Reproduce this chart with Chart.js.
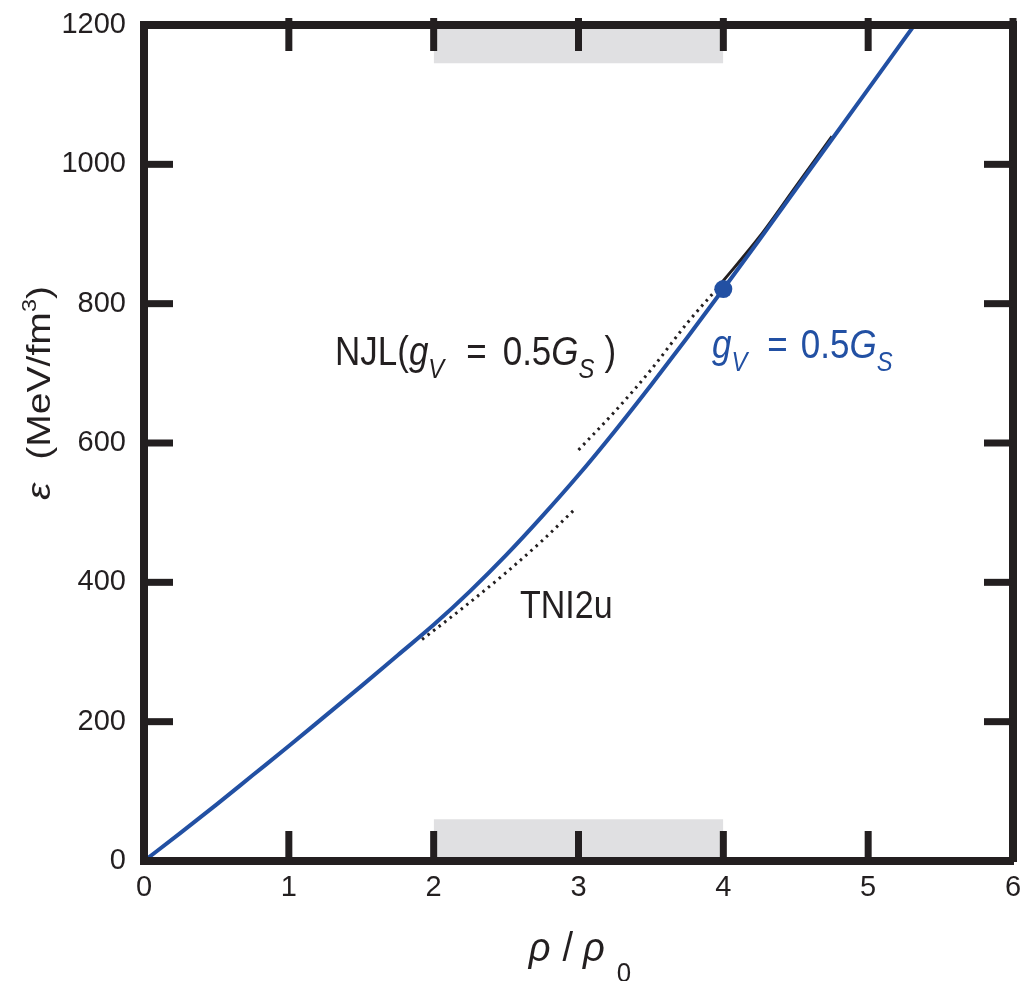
<!DOCTYPE html>
<html>
<head>
<meta charset="utf-8">
<script src="https://cdn.jsdelivr.net/npm/chart.js@4.4.1/dist/chart.umd.min.js"></script>
<style>
  html, body { margin: 0; padding: 0; background: #ffffff; }
  #wrap { width: 1026px; height: 981px; position: relative; }
</style>
</head>
<body>
<div id="wrap"><canvas id="c" width="1026" height="981"></canvas></div>
<script>
// ---------- data ----------
const xTicks = [0, 1, 2, 3, 4, 5, 6];
const yTicks = [0, 200, 400, 600, 800, 1000, 1200];

// blue curve (g_V = 0.5 G_S)
const rhoMain = [0, 0.25, 0.5, 0.75, 1, 1.25, 1.5, 1.75, 2, 2.25, 2.5, 2.75, 3, 3.25, 3.5, 3.75, 4, 4.25, 4.5, 4.75, 5, 5.25, 5.5];
const epsMain = [0, 40, 81, 123, 165, 208, 251, 295, 339, 387, 439, 495, 554, 617, 683, 751, 821, 892, 964, 1036, 1108, 1180, 1252];

// NJL(g_V = 0.5 G_S): dotted part and solid part
const rhoNJLdot = [3.0, 3.25, 3.5, 3.75, 3.98];
const epsNJLdot = [590, 645, 705, 772, 827];
const rhoNJLsolid = [3.98, 4.25, 4.5, 4.75];
const epsNJLsolid = [828, 896, 968, 1040];

// TNI2u dotted
const rhoTNI = [1.92, 2.2, 2.5, 2.75, 2.97];
const epsTNI = [318, 363, 414, 460, 504];

// transition marker
const rhoDot = [4.0];
const epsDot = [821];

// shaded bands (rho range 2..4)
const bandRho = [2, 4];
const bandLow = [60, 60];
const bandHigh = [1145, 1145];

// ---------- styling ----------
const FAM = "'Liberation Sans', Arial, Helvetica, sans-serif";
const INK = '#231f20';
const BLUE = '#2250a3';
const GREY = '#e0e0e2';

function pts(xs, ys) { return xs.map((x, i) => ({ x: x, y: ys[i] })); }

// draws mixed-style text; sx/sy stretch the glyphs
function drawRich(ctx, segs, x, y, base, color, align, sx, sy) {
  sx = sx || 1; sy = sy || 1;
  const fontOf = s => {
    const size = (s.sub || s.sup) ? base * (s.scale || 0.68) : base;
    return (s.it ? 'italic ' : '') + size + 'px ' + FAM;
  };
  const widths = segs.map(s => {
    ctx.font = fontOf(s);
    return ctx.measureText(s.t).width + (s.pre || 0);
  });
  const total = widths.reduce((a, b) => a + b, 0);
  ctx.save();
  ctx.translate(x, y);
  ctx.scale(sx, sy);
  let cx = align === 'center' ? -total / 2 : 0;
  ctx.fillStyle = color;
  ctx.textBaseline = 'alphabetic';
  ctx.textAlign = 'left';
  segs.forEach((s, i) => {
    ctx.font = fontOf(s);
    const dy = s.sub ? base * (s.dy || 0.32) : (s.sup ? -base * 0.42 : 0);
    ctx.fillText(s.t, cx + (s.pre || 0), dy);
    cx += widths[i];
  });
  ctx.restore();
}

const decor = {
  id: 'decor',
  afterDraw(chart) {
    const ctx = chart.ctx;
    const a = chart.chartArea;
    const xs = chart.scales.x, ys = chart.scales.y;
    ctx.save();
    // inward tick marks on all four sides
    ctx.strokeStyle = INK;
    ctx.lineWidth = 7;
    ctx.lineCap = 'butt';
    xTicks.forEach(v => {
      if (v === xTicks[0] || v === xTicks[xTicks.length - 1]) return;
      const px = xs.getPixelForValue(v);
      ctx.beginPath(); ctx.moveTo(px, a.bottom); ctx.lineTo(px, a.bottom - 30); ctx.stroke();
      ctx.beginPath(); ctx.moveTo(px, a.top - 7); ctx.lineTo(px, a.top + 26); ctx.stroke();
    });
    ctx.beginPath(); ctx.moveTo(a.right, a.top - 7); ctx.lineTo(a.right, a.top + 4); ctx.stroke();
    yTicks.forEach(v => {
      if (v === yTicks[0] || v === yTicks[yTicks.length - 1]) return;
      const py = ys.getPixelForValue(v);
      ctx.beginPath(); ctx.moveTo(a.left, py); ctx.lineTo(a.left + 29, py); ctx.stroke();
      ctx.beginPath(); ctx.moveTo(a.right, py); ctx.lineTo(a.right - 29, py); ctx.stroke();
    });

    const SY = 1.15;
    // annotations
    drawRich(ctx, [
      { t: 'NJL(' },
      { t: 'g', it: true },
      { t: 'V', it: true, sub: true },
      { t: '=', pre: 22 },
      { t: '0.5', pre: 16 },
      { t: 'G', it: true },
      { t: 'S', it: true, sub: true },
      { t: ')', pre: 10 }
    ], 335, 365, 35, INK, 'left', 1, SY);

    drawRich(ctx, [
      { t: 'g', it: true },
      { t: 'V', it: true, sub: true },
      { t: '=', pre: 20 },
      { t: '0.5', pre: 13 },
      { t: 'G', it: true },
      { t: 'S', it: true, sub: true }
    ], 712, 358, 35, BLUE, 'left', 1, SY);

    drawRich(ctx, [{ t: 'TNI2u' }], 520, 618, 34, INK, 'left', 1, SY);

    // x axis title
    drawRich(ctx, [
      { t: 'ρ', it: true },
      { t: '/', pre: 12 },
      { t: 'ρ', it: true, pre: 10 },
      { t: '0', sub: true, pre: 12, dy: 0.52, scale: 0.68 }
    ], 580, 961, 38, INK, 'center', 1, 1.05);

    // y axis title (rotated)
    ctx.save();
    ctx.translate(50, 393);
    ctx.rotate(-Math.PI / 2);
    drawRich(ctx, [
      { t: 'ε', it: true },
      { t: '(MeV/fm', pre: 20 },
      { t: '3', sup: true, scale: 0.6 },
      { t: ')' }
    ], 0, 0, 34, INK, 'center', 1.15, 1);
    ctx.restore();

    ctx.restore();
  }
};

const commonGridOff = { display: true, drawOnChartArea: false, drawTicks: false };
const borderStyle = { display: true, width: 8, color: INK, z: 1 };
const noPad = s => { s.paddingTop = 0; s.paddingBottom = 0; s.paddingLeft = 0; s.paddingRight = 0; };

new Chart(document.getElementById('c'), {
  type: 'line',
  data: {
    datasets: [
      { label: 'band-low', data: pts(bandRho, bandLow), borderWidth: 0, pointRadius: 0,
        backgroundColor: GREY, fill: 'origin', order: 10 },
      { label: 'band-high', data: pts(bandRho, bandHigh), borderWidth: 0, pointRadius: 0,
        backgroundColor: GREY, fill: 'end', order: 10 },
      { label: 'TNI2u', data: pts(rhoTNI, epsTNI), borderColor: INK, borderWidth: 3,
        borderDash: [2.5, 4.5], pointRadius: 0, fill: false, cubicInterpolationMode: 'monotone', order: 3 },
      { label: 'NJL dotted', data: pts(rhoNJLdot, epsNJLdot), borderColor: INK, borderWidth: 3,
        borderDash: [2.5, 4.5], pointRadius: 0, fill: false, cubicInterpolationMode: 'monotone', order: 3 },
      { label: 'NJL solid', data: pts(rhoNJLsolid, epsNJLsolid), borderColor: INK, borderWidth: 3,
        pointRadius: 0, fill: false, cubicInterpolationMode: 'monotone', order: 3 },
      { label: 'gV=0.5GS', data: pts(rhoMain, epsMain), borderColor: BLUE, borderWidth: 4,
        pointRadius: 0, fill: false, cubicInterpolationMode: 'monotone', order: 1 },
      { label: 'transition', data: pts(rhoDot, epsDot), showLine: false, pointRadius: 9,
        pointBackgroundColor: BLUE, pointBorderColor: BLUE, pointBorderWidth: 0, order: 0 }
    ]
  },
  options: {
    responsive: false,
    animation: false,
    events: [],
    layout: { padding: { left: 0, right: 0, top: 0, bottom: 0 } },
    plugins: { legend: { display: false }, tooltip: { enabled: false } },
    scales: {
      x: {
        type: 'linear', position: 'bottom', min: 0, max: 6,
        afterBuildTicks: s => { s.ticks = xTicks.map(v => ({ value: v })); },
        ticks: { color: INK, font: { family: FAM, size: 29 }, padding: 10, maxRotation: 0,
                 callback: v => String(v) },
        grid: commonGridOff, border: borderStyle,
        afterFit: s => { s.height = 120; noPad(s); }
      },
      x2: {
        type: 'linear', position: 'top', min: 0, max: 6, axis: 'x',
        ticks: { display: false },
        grid: commonGridOff, border: borderStyle,
        afterFit: s => { s.height = 25; noPad(s); }
      },
      y: {
        type: 'linear', position: 'left', min: 0, max: 1200,
        afterBuildTicks: s => { s.ticks = yTicks.map(v => ({ value: v })); },
        ticks: { color: INK, font: { family: FAM, size: 29 }, padding: 18,
                 callback: v => String(v) },
        grid: commonGridOff, border: borderStyle,
        afterFit: s => { s.width = 144; noPad(s); }
      },
      y2: {
        type: 'linear', position: 'right', min: 0, max: 1200, axis: 'y',
        ticks: { display: false },
        grid: commonGridOff, border: borderStyle,
        afterFit: s => { s.width = 13; noPad(s); }
      }
    }
  },
  plugins: [decor]
});
</script>
</body>
</html>
